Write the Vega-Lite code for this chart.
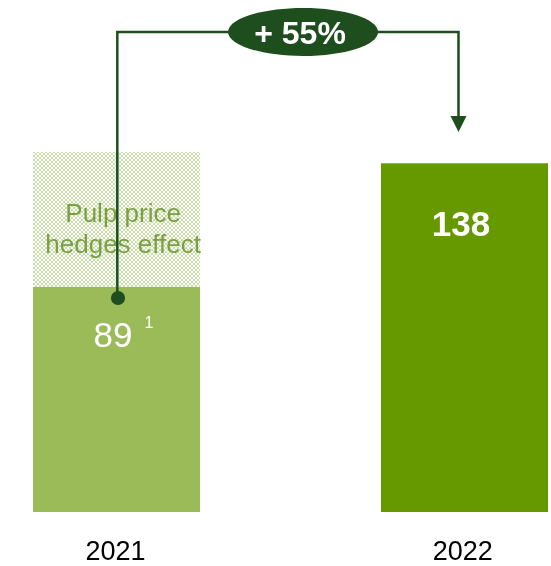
{
  "$schema": "https://vega.github.io/schema/vega-lite/v6.json",
  "width": 551,
  "height": 566,
  "padding": 0,
  "autosize": "none",
  "background": "white",
  "config": {"view": {"stroke": null}, "text": {"font": "Liberation Sans"}},
  "layer": [
    {
      "data": {"values": [
        {"year": "2021", "part": "2021 EBITDA", "x0": 0.76, "x1": 1.24, "y0": 0, "y1": 89},
        {"year": "2022", "part": "2022 EBITDA", "x0": 1.76, "x1": 2.24, "y0": 0, "y1": 138}
      ]},
      "mark": {"type": "rect"},
      "encoding": {
        "x": {"field": "x0", "type": "quantitative", "scale": {"domain": [0.6652, 2.2486], "nice": false, "zero": false}, "axis": null},
        "x2": {"field": "x1"},
        "y": {"field": "y0", "type": "quantitative", "scale": {"domain": [-21.36, 202.53], "nice": false, "zero": false}, "axis": null},
        "y2": {"field": "y1"},
        "color": {"field": "part", "type": "nominal", "legend": null,
          "scale": {"domain": ["2021 EBITDA", "2022 EBITDA"], "range": ["#9bbb59", "#669900"]}}
      }
    },
    {
      "data": {"values": [
        {"part": "Pulp price hedges effect", "x0": 0.76, "x1": 1.24, "xc": 1.0, "y0": 89, "y1": 142.4, "yc": 115.7}
      ]},
      "layer": [
        {
          "mark": {"type": "rule", "color": "white", "strokeWidth": 135, "strokeDash": [2, 2], "strokeCap": "butt", "blend": "difference"},
          "encoding": {
            "x": {"field": "x0", "type": "quantitative"},
            "x2": {"field": "x1"},
            "y": {"field": "yc", "type": "quantitative"}
          }
        },
        {
          "mark": {"type": "rule", "color": "white", "strokeWidth": 167, "strokeDash": [2, 2], "strokeCap": "butt", "blend": "difference"},
          "encoding": {
            "x": {"field": "xc", "type": "quantitative"},
            "y": {"field": "y0", "type": "quantitative"},
            "y2": {"field": "y1"}
          }
        },
        {
          "mark": {"type": "rect", "color": "#c9dda9", "blend": "screen"},
          "encoding": {
            "x": {"field": "x0", "type": "quantitative"},
            "x2": {"field": "x1"},
            "y": {"field": "y0", "type": "quantitative"},
            "y2": {"field": "y1"}
          }
        }
      ]
    },
    {
      "data": {"values": [
        {"label": "Pulp price", "x": 1.019, "y": 114.8},
        {"label": "hedges effect", "x": 1.019, "y": 102.5}
      ]},
      "mark": {"type": "text", "fontSize": 26, "color": "#79a142", "align": "center", "baseline": "alphabetic"},
      "encoding": {
        "x": {"field": "x", "type": "quantitative"},
        "y": {"field": "y", "type": "quantitative"},
        "text": {"field": "label"}
      }
    },
    {
      "data": {"values": [
        {"step": 1, "x": 1.0023, "y": 84.65},
        {"step": 2, "x": 1.0023, "y": 189.9},
        {"step": 3, "x": 1.9828, "y": 189.9},
        {"step": 4, "x": 1.9828, "y": 156.5}
      ]},
      "mark": {"type": "line", "color": "#1e4d1e", "strokeWidth": 2.5, "strokeCap": "butt", "strokeJoin": "miter"},
      "encoding": {
        "x": {"field": "x", "type": "quantitative"},
        "y": {"field": "y", "type": "quantitative"},
        "order": {"field": "step"}
      }
    },
    {
      "data": {"values": [{"x": 1.9828, "y": 153.5}]},
      "mark": {"type": "point", "shape": "M -1 -1 L 1 -1 L 0 1 Z", "size": 256, "filled": true, "color": "#1e4d1e", "opacity": 1},
      "encoding": {
        "x": {"field": "x", "type": "quantitative"},
        "y": {"field": "y", "type": "quantitative"}
      }
    },
    {
      "data": {"values": [{"x": 1.0043, "y": 84.65}]},
      "mark": {"type": "point", "shape": "circle", "size": 200, "filled": true, "color": "#1e4d1e", "opacity": 1},
      "encoding": {
        "x": {"field": "x", "type": "quantitative"},
        "y": {"field": "y", "type": "quantitative"}
      }
    },
    {
      "data": {"values": [{"x": 1.536, "y": 189.9, "label": "+ 55%"}]},
      "layer": [
        {
          "mark": {"type": "point", "shape": "M -1 0 A 1 0.32 0 1 0 1 0 A 1 0.32 0 1 0 -1 0 Z", "size": 22500, "filled": true, "color": "#1e4d1e", "opacity": 1},
          "encoding": {
            "x": {"field": "x", "type": "quantitative"},
            "y": {"field": "y", "type": "quantitative"}
          }
        },
        {
          "mark": {"type": "text", "fontSize": 32, "fontWeight": "bold", "color": "white", "align": "center", "baseline": "alphabetic", "dx": -3, "dy": 12},
          "encoding": {
            "x": {"field": "x", "type": "quantitative"},
            "y": {"field": "y", "type": "quantitative"},
            "text": {"field": "label"}
          }
        }
      ]
    },
    {
      "data": {"values": [{"x": 1.99, "y": 109.2, "label": "138"}]},
      "mark": {"type": "text", "fontSize": 35, "fontWeight": "bold", "color": "white", "align": "center", "baseline": "alphabetic"},
      "encoding": {
        "x": {"field": "x", "type": "quantitative"},
        "y": {"field": "y", "type": "quantitative"},
        "text": {"field": "label"}
      }
    },
    {
      "data": {"values": [{"x": 0.99, "y": 65.4, "label": "89"}]},
      "mark": {"type": "text", "fontSize": 35, "color": "white", "align": "center", "baseline": "alphabetic"},
      "encoding": {
        "x": {"field": "x", "type": "quantitative"},
        "y": {"field": "y", "type": "quantitative"},
        "text": {"field": "label"}
      }
    },
    {
      "data": {"values": [{"x": 1.093, "y": 72.8, "label": "1"}]},
      "mark": {"type": "text", "fontSize": 16, "color": "white", "align": "center", "baseline": "alphabetic"},
      "encoding": {
        "x": {"field": "x", "type": "quantitative"},
        "y": {"field": "y", "type": "quantitative"},
        "text": {"field": "label"}
      }
    },
    {
      "data": {"values": [{"x": 0.997, "y": -19.0, "label": "2021"}, {"x": 1.995, "y": -19.0, "label": "2022"}]},
      "mark": {"type": "text", "fontSize": 27, "color": "#000000", "align": "center", "baseline": "alphabetic"},
      "encoding": {
        "x": {"field": "x", "type": "quantitative"},
        "y": {"field": "y", "type": "quantitative"},
        "text": {"field": "label"}
      }
    }
  ]
}
